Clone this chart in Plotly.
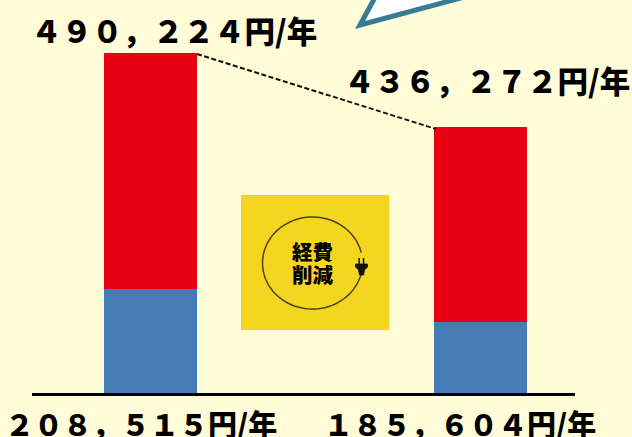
import math
import plotly.graph_objects as go

W, H = 632, 437
BASE_Y = 394

categories = ["before", "after"]
lower_heights = [105, 72]
upper_heights = [236, 195]
total_labels = ["４９０，２２４円/年", "４３６，２７２円/年"]
lower_labels = ["２０８，５１５円/年", "１８５，６０４円/年"]
badge_lines = ["経費", "削減"]

BG = "#FFFCD7"
FONT = "Noto Sans CJK JP"
BAR_W = 93 / 330
X_POS = list(range(len(categories)))


def px(x):
    return x / W


def py(y):
    return 1 - y / H


def path(points, close=True):
    d = "M " + " L ".join(f"{px(x):.5f},{py(y):.5f}" for x, y in points)
    return d + (" Z" if close else "")


fig = go.Figure()
fig.add_bar(x=X_POS, y=lower_heights, width=BAR_W, marker=dict(color="#447DB5", line_width=0),
            name=categories[0], hoverinfo="skip")
fig.add_bar(x=X_POS, y=upper_heights, width=BAR_W, marker=dict(color="#E60012", line_width=0),
            name=categories[1], hoverinfo="skip")

# dashed connector between the two bar tops
fig.add_scatter(
    x=[BAR_W / 2, 1 - BAR_W / 2 + 0.006],
    y=[lower_heights[0] + upper_heights[0] - 1, lower_heights[1] + upper_heights[1] - 2],
    mode="lines",
    line=dict(color="#111111", width=2, dash="5px,2.5px"), hoverinfo="skip",
)

shapes = []
# callout corner
shapes.append(dict(type="path", path=path([(360, 25), (378, -8), (483, -8)]),
                   xref="paper", yref="paper", fillcolor="#FFFFFF",
                   line=dict(color="#357D93", width=5)))
# yellow badge
shapes.append(dict(type="rect", xref="paper", yref="paper", x0=px(241), x1=px(389), y0=py(195), y1=py(330),
                   fillcolor="#F4D520", line_width=0, layer="above"))
# cord: open ellipse that leaves a gap for the plug
cx, cy, rx, ry = 312.5, 263, 50, 46
pts = []
for deg in range(-13, -346, -4):
    a = math.radians(deg)
    pts.append((cx + rx * math.cos(a), cy + ry * math.sin(a)))
shapes.append(dict(type="path", path=path(pts, close=False), xref="paper", yref="paper",
                   line=dict(color="#4A4220", width=1.5), layer="above"))
# plug
shapes.append(dict(type="path", xref="paper", yref="paper", layer="above", fillcolor="#111111",
                   line=dict(color="#111111", width=0.8),
                   path=path([(355.5, 264), (367.5, 264), (367.5, 267), (364.5, 270), (363.5, 275),
                              (359.5, 275), (358.5, 270), (355.5, 267)])))
for x0 in (358.4, 362.8):
    shapes.append(dict(type="rect", xref="paper", yref="paper", layer="above", x0=px(x0), x1=px(x0 + 1.5),
                       y0=py(258), y1=py(264), fillcolor="#111111", line_width=0))
# baseline
shapes.append(dict(type="line", xref="paper", yref="paper", x0=px(32), x1=px(575), y0=py(394.5), y1=py(394.5),
                   line=dict(color="#000000", width=3), layer="above"))

annotations = []


def label(text, x, y, size, anchor="left"):
    annotations.append(dict(text=text, xref="paper", yref="paper", x=px(x), y=py(y), xanchor=anchor, yanchor="middle",
                            showarrow=False, borderpad=0, font=dict(family=FONT, size=size, color="#000000", weight=900)))


label(total_labels[0], 29.5, 30, 30.5)
label(total_labels[1], 342.5, 80, 30.5)
label(lower_labels[0], 4, 423, 29)
label(lower_labels[1], 323, 423, 29)
label(badge_lines[0], 312.5, 251, 20.5, "center")
label(badge_lines[1], 312.5, 274, 20.5, "center")

fig.update_layout(
    width=W, height=H, margin=dict(l=0, r=0, t=0, b=0), barmode="stack",
    paper_bgcolor=BG, plot_bgcolor=BG, showlegend=False, shapes=shapes, annotations=annotations,
    xaxis=dict(domain=[0, 1], visible=False, range=[-150.5 / 330, (632 - 150.5) / 330]),
    yaxis=dict(domain=[py(BASE_Y), 1], visible=False, range=[0, BASE_Y]),
)
fig.write_html(
    "out.html",
    config=dict(displayModeBar=False),
    post_script="document.body.style.margin='0';document.documentElement.style.overflow='hidden';"
                f"document.body.style.background='{BG}';window.dispatchEvent(new Event('resize'));",
)
